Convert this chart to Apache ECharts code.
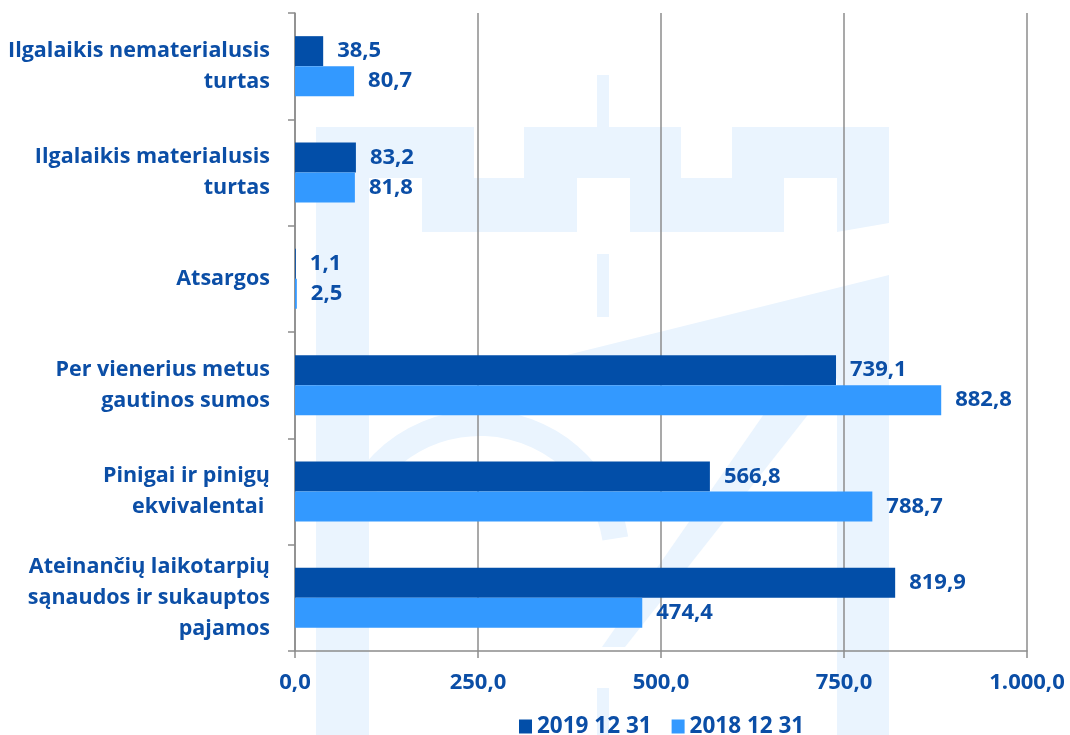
<!DOCTYPE html>
<html>
<head>
<meta charset="utf-8">
<script src="https://cdn.jsdelivr.net/npm/echarts@6/dist/echarts.min.js"></script>
<style>
  html, body { margin: 0; padding: 0; background: #fff; }
  #chart { width: 1070px; height: 735px; }
</style>
</head>
<body>
<div id="chart"></div>
<script>
// kategorijos (iš viršaus į apačią)
const categories = [
  'Ilgalaikis nematerialusis\nturtas',
  'Ilgalaikis materialusis\nturtas',
  'Atsargos',
  'Per vienerius metus\ngautinos sumos',
  'Pinigai ir pinigų\nekvivalentai ',
  'Ateinančių laikotarpių\nsąnaudos ir sukauptos\npajamos'
]
const seriesNames = ['2019 12 31', '2018 12 31']
const values2019 = [38.5, 83.2, 1.1, 739.1, 566.8, 819.9]
const values2018 = [80.7, 81.8, 2.5, 882.8, 788.7, 474.4]
const xTicks = [0, 250, 500, 750, 1000]

const darkBlue = '#024ea8'
const lightBlue = '#3399ff'
const textBlue = '#0b4ea6'
const wm = '#eaf4fe'
const font = '"Open Sans", Lato, sans-serif'
const fs = 22

// skaičiai lietuvišku formatu: 1.000,0
const fmt = (v) => {
  const parts = Number(v).toFixed(1).split('.')
  parts[0] = parts[0].replace(/\B(?=(\d{3})+(?!\d))/g, '.')
  return parts.join(',')
}

const chart = echarts.init(document.getElementById('chart'))

// blankus fono logotipas
const watermark = [
  { type: 'polygon', shape: { points: [
    [316,127],[474,127],[474,178],[524,178],[524,127],[681,127],[681,178],[732,178],[732,127],
    [889,127],[889,223],[837,232],[837,178],[784,178],[784,232],[630,232],[630,178],[577,178],
    [577,232],[422,232],[422,178],[369,178],[369,735],[316,735]] } },
  { type: 'rect', shape: { x: 597, y: 75, width: 12, height: 52 } },
  { type: 'rect', shape: { x: 597, y: 254, width: 12, height: 63 } },
  { type: 'rect', shape: { x: 597, y: 688, width: 12, height: 47 } },
  { type: 'rect', shape: { x: 837, y: 290, width: 52, height: 445 } },
  { type: 'polygon', shape: { points: [[889,275],[567,355],[889,355]] } },
  { type: 'polygon', shape: { points: [[805,355],[855,355],[625,647],[602,647]] } },
  { type: 'sector', shape: { cx: 480, cy: 560, r: 150, r0: 124, startAngle: Math.PI, endAngle: Math.PI * 1.95, clockwise: true } }
].map(el => Object.assign(el, { style: { fill: wm }, z: -10, silent: true }))

const valueLabel = {
  show: true,
  position: 'right',
  distance: 14,
  color: textBlue,
  fontSize: fs,
  fontWeight: 'bold',
  fontFamily: font,
  formatter: (p) => fmt(p.value)
}

const option = {
  backgroundColor: '#fff',
  animation: false,
  textStyle: { fontFamily: font },
  graphic: { elements: watermark },
  grid: {
    left: 295,
    right: 43,
    top: 13,
    bottom: 84
  },
  legend: {
    data: seriesNames,
    left: 514,
    top: 710,
    icon: 'rect',
    itemWidth: 13,
    itemHeight: 14,
    itemGap: 20,
    textStyle: { color: textBlue, fontSize: 22.5, fontWeight: 'bold', fontFamily: font }
  },
  xAxis: {
    type: 'value',
    min: xTicks[0],
    max: xTicks[xTicks.length - 1],
    interval: 250,
    axisLine: { show: true, lineStyle: { color: '#8c8c8c', width: 1.5 } },
    axisTick: { show: true, length: 7, lineStyle: { color: '#8c8c8c', width: 1.5 } },
    splitLine: { show: true, lineStyle: { color: '#8c8c8c', width: 1.5 } },
    axisLabel: {
      color: textBlue,
      fontSize: fs,
      fontWeight: 'bold',
      fontFamily: font,
      margin: 21,
      formatter: fmt
    }
  },
  yAxis: {
    type: 'category',
    inverse: true,
    data: categories,
    axisLine: { show: true, lineStyle: { color: '#8c8c8c', width: 1.5 } },
    axisTick: { show: true, length: 7, alignWithLabel: false, lineStyle: { color: '#8c8c8c', width: 1.5 } },
    axisLabel: {
      color: textBlue,
      fontSize: 21.5,
      fontWeight: 'bold',
      fontFamily: font,
      margin: 25,
      lineHeight: 31,
      align: 'right'
    }
  },
  series: [
    {
      name: seriesNames[0],
      type: 'bar',
      data: values2019,
      barWidth: 30,
      barGap: '0%',
      itemStyle: { color: darkBlue },
      label: valueLabel
    },
    {
      name: seriesNames[1],
      type: 'bar',
      data: values2018,
      barWidth: 30,
      barGap: '0%',
      itemStyle: { color: lightBlue },
      label: valueLabel
    }
  ]
}

chart.setOption(option)
</script>
</body>
</html>
